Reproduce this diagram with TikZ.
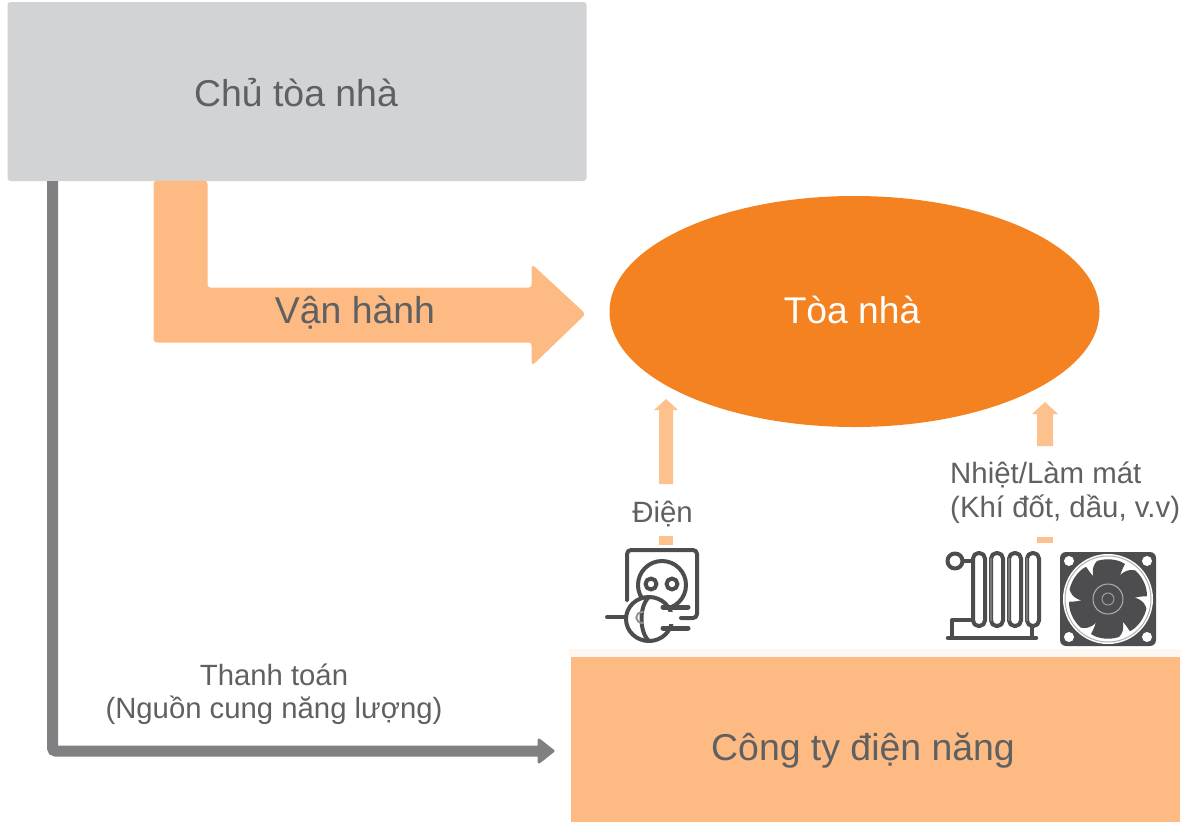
\documentclass[tikz,border=0pt]{standalone}
\usepackage{fontspec}
\setmainfont{Liberation Sans}
\usetikzlibrary{shapes.geometric}
\definecolor{txt}{HTML}{5F6062}
\definecolor{grayb}{HTML}{D1D3D4}
\definecolor{peach}{HTML}{FDBA82}
\definecolor{paleband}{HTML}{FEF6F0}
\definecolor{orng}{HTML}{F58220}
\definecolor{conn}{HTML}{808082}
\definecolor{icon}{HTML}{4D4D4F}
\tikzset{
 x=1pt,y=-1pt,
 lab/.style={text=txt,align=center,inner sep=0pt,font=\fontsize{#1}{#1}\selectfont},
 lab/.default=29.4,
 peachfill/.style={fill=peach,draw=peach,line width=1pt,line join=round},
 smallarrow/.style={fill=peach!90!white,draw=none},
 ic/.style={draw=icon,line width=4pt,line cap=round,line join=round},
}
\begin{document}
\begin{tikzpicture}
\useasboundingbox (0,0) rectangle (1181,822);
% boxes
\node[draw=none,fill=grayb,rounded corners=3pt,minimum width=579pt,minimum height=179pt,inner sep=0pt] (owner) at (297,91.5) {};
\node[lab=37.4] (ownerT) at (296,93) {Chủ tòa nhà};
\node[ellipse,fill=orng,minimum width=490pt,minimum height=231pt,inner sep=0pt] (bldg) at (854.5,311.5) {};
\node[lab=37.2,text=white] (bldgT) at (852,310) {Tòa nhà};
\fill[paleband] (569,649) rectangle (1181,657);
\node[fill=peach,minimum width=609pt,minimum height=165pt,inner sep=0pt] (util) at (875.5,739.5) {};
\node[lab=37.4] (utilT) at (863,751) {Công ty điện năng};
% operation arrow
\coordinate (opTip) at (585,314);
\fill[peachfill,rounded corners=3pt] (154,181) -- (207,181) -- (207,288) -- (532,288) -- (532,265) -- (opTip) -- (532,365) -- (532,342) -- (154,342) -- cycle;
\node[lab=37.4] (opT) at (355,313) {Vận hành};
% small arrows
\fill[smallarrow] (659,484) -- (659,410) -- (654,410) -- (666,399) -- (678,410) -- (673,410) -- (673,484) -- cycle;
\fill[smallarrow] (659,536) rectangle (673,545);
\fill[smallarrow] (1037,446) -- (1037,414) -- (1032,414) -- (1045,402) -- (1058,414) -- (1053,414) -- (1053,446) -- cycle;
\fill[smallarrow] (1037,537) rectangle (1053,543);
\node[lab] (elec) at (662.5,514) {Điện};
\node[lab,align=left,anchor=north west] (heat) at (950,461.5) {Nhiệt/Làm mát\\[4.5pt](Khí đốt, dầu, v.v)};
\node[lab=29.3] (pay) at (274,694) {Thanh toán\\[3.5pt](Nguồn cung năng lượng)};
% payment connector
\coordinate (payA) at (52.5,181);
\coordinate (payB) at (540,751);
\draw[conn,line width=11pt,rounded corners=3pt] (payA) |- (payB);
\fill[conn,draw=conn,line width=3pt,line join=round] (539,740) -- (553,751) -- (539,762) -- cycle;
% plug icon
\draw[ic,rounded corners=4pt] (627,600) -- (627,550) -- (697,550) -- (697,618) -- (681,618);
\draw[ic] (662,585) circle (24);
\draw[ic] (651,584) circle (5.5);
\draw[ic] (672,584) circle (5.5);
\draw[ic] (607,617) -- (626,617);
\draw[ic,fill=white] (649,619) ellipse (23 and 22);
\draw[ic] (649,597) .. controls (639,606) and (639,632) .. (649,641);
\draw[icon!60!white,line width=2pt,line cap=round] (643,612) .. controls (634,612) and (634,623) .. (643,623);
\fill[white] (660,612) rectangle (674,624);
\draw[ic,line width=5pt] (663,607) -- (688,607);
\draw[ic,line width=5pt] (663,628) -- (688,628);
% radiator icon
\draw[ic] (955,561) circle (7.5);
\draw[ic] (963,561) -- (972,561);
\foreach \i in {0,...,3}{
 \draw[ic,rounded corners=5.5pt] ({973+18*\i},553) rectangle ({985+18*\i},626);
 }
\foreach \i in {0,1,2}{
 \draw[icon!75!white,line width=2pt] ({991+18*\i},558) -- ({991+18*\i},621);
}
\draw[ic] (952,637) -- (952,620) -- (972,620);
\draw[ic] (1032,626) -- (1032,637);
\draw[ic,line width=4.5pt] (948,638) -- (1036,638);
% fan icon
\fill[icon,rounded corners=6pt] (1060,552) rectangle (1156,646);
\fill[white] (1108,599) circle (45);
\draw[icon!45!white,line width=1pt] (1108,599) circle (43);
\foreach \p in {(1069,561),(1147,561),(1069,637),(1147,637)} \fill[white] \p circle (5);
\foreach \a in {0,60,...,300}{
 \fill[icon,rotate around={\a:(1108,599)}] (1099,587) .. controls (1091,577) and (1091,567) .. (1097,561) .. controls (1106,558) and (1118,559) .. (1125,564) .. controls (1120,573) and (1118,581) .. (1120,589) -- cycle;
}
\fill[icon] (1108,599) circle (15);
\draw[white!55!icon,line width=1pt] (1108,599) circle (15);
\draw[white!45!icon,line width=1pt] (1108,599) circle (6);
\end{tikzpicture}
\end{document}
